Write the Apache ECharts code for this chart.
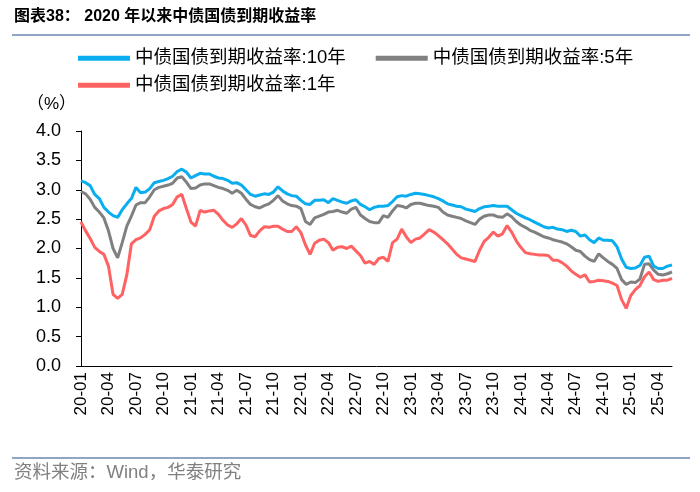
<!DOCTYPE html>
<html>
<head>
<meta charset="utf-8">
<script src="https://cdn.jsdelivr.net/npm/echarts@6/dist/echarts.min.js"></script>
<style>
html,body{margin:0;padding:0;background:#fff;}
#chart{width:700px;height:492px;}
</style>
</head>
<body>
<div id="chart"></div>
<script>
// Semi-monthly observations from 2020-01 to 2025-05 (1st and 16th of each month)
const startYear = 2020;
const nMonths = 65;
const dates = [];
for (let m = 0; m < nMonths; m++) {
  const y = startYear + Math.floor(m / 12);
  const mo = (m % 12) + 1;
  const mm = (mo < 10 ? '0' : '') + mo;
  dates.push(y + '-' + mm + '-01');
  dates.push(y + '-' + mm + '-16');
}

const seriesNames = ['中债国债到期收益率:10年', '中债国债到期收益率:5年', '中债国债到期收益率:1年'];

const yield10y = [
  3.15,3.12, 3.07,2.92, 2.85,2.70, 2.62,2.56, 2.53,2.66, 2.76,2.85,
  3.04,2.95, 2.96,3.02, 3.12,3.14, 3.16,3.19, 3.23,3.31, 3.35,3.30,
  3.20,3.24, 3.28,3.27, 3.27,3.23, 3.20,3.19, 3.16,3.11, 3.12,3.08,
  3.00,2.92, 2.89,2.91, 2.93,2.92, 2.96,3.05, 2.98,2.93, 2.90,2.89,
  2.82,2.76, 2.75,2.82, 2.82,2.83, 2.78,2.85, 2.82,2.79, 2.77,2.81,
  2.83,2.75, 2.71,2.66, 2.70,2.72, 2.72,2.73, 2.80,2.88, 2.90,2.89,
  2.92,2.94, 2.93,2.92, 2.90,2.88, 2.85,2.81, 2.76,2.74, 2.72,2.71,
  2.67,2.65, 2.63,2.68, 2.71,2.72, 2.73,2.72, 2.72,2.72, 2.66,2.60,
  2.56,2.52, 2.49,2.45, 2.41,2.37, 2.35,2.36, 2.33,2.32, 2.29,2.31,
  2.29,2.21, 2.23,2.15, 2.10,2.18, 2.14,2.14, 2.13,2.03, 1.82,1.68,
  1.66,1.67, 1.71,1.85, 1.87,1.70, 1.66,1.66, 1.70,1.72
];

const yield5y = [
  2.97,2.93, 2.84,2.70, 2.62,2.52, 2.30,2.00, 1.84,2.10, 2.38,2.55,
  2.74,2.78, 2.78,2.88, 3.00,3.04, 3.06,3.08, 3.11,3.20, 3.22,3.13,
  3.02,3.03, 3.08,3.10, 3.10,3.07, 3.04,3.02, 2.99,2.94, 2.99,2.94,
  2.84,2.75, 2.71,2.69, 2.73,2.76, 2.82,2.90, 2.81,2.76, 2.73,2.72,
  2.68,2.46, 2.41,2.52, 2.55,2.58, 2.62,2.63, 2.65,2.62, 2.60,2.67,
  2.70,2.57, 2.51,2.46, 2.44,2.44, 2.56,2.53, 2.64,2.73, 2.72,2.69,
  2.75,2.77, 2.77,2.75, 2.73,2.72, 2.70,2.62, 2.57,2.55, 2.53,2.51,
  2.47,2.44, 2.41,2.50, 2.55,2.57, 2.57,2.54, 2.53,2.59, 2.54,2.46,
  2.40,2.36, 2.31,2.28, 2.24,2.20, 2.18,2.15, 2.13,2.11, 2.08,2.03,
  1.97,1.95, 1.87,1.81, 1.78,1.91, 1.84,1.78, 1.73,1.66, 1.47,1.39,
  1.43,1.42, 1.48,1.73, 1.74,1.63, 1.56,1.55, 1.57,1.60
];

const yield1y = [
  2.45,2.30, 2.17,2.02, 1.95,1.90, 1.70,1.22, 1.15,1.22, 1.55,2.08,
  2.15,2.18, 2.24,2.32, 2.55,2.64, 2.68,2.70, 2.75,2.88, 2.92,2.68,
  2.45,2.38, 2.65,2.62, 2.64,2.65, 2.58,2.48, 2.40,2.36, 2.42,2.51,
  2.40,2.22, 2.20,2.30, 2.37,2.36, 2.38,2.38, 2.33,2.29, 2.29,2.37,
  2.27,2.06, 1.90,2.09, 2.14,2.16, 2.10,1.97, 2.02,2.03, 2.00,2.04,
  1.96,1.88, 1.75,1.78, 1.73,1.83, 1.85,1.78, 2.10,2.16, 2.33,2.20,
  2.10,2.16, 2.18,2.25, 2.32,2.28, 2.22,2.15, 2.08,1.99, 1.90,1.84,
  1.82,1.80, 1.78,1.97, 2.12,2.19, 2.28,2.21, 2.25,2.39, 2.28,2.13,
  2.02,1.93, 1.91,1.90, 1.89,1.89, 1.88,1.80, 1.80,1.76, 1.70,1.62,
  1.56,1.51, 1.55,1.43, 1.44,1.46, 1.45,1.44, 1.41,1.37, 1.13,0.98,
  1.20,1.30, 1.37,1.52, 1.60,1.47, 1.44,1.46, 1.46,1.49
];

const yTicks = ['0.0','0.5','1.0','1.5','2.0','2.5','3.0','3.5','4.0'];
const colors = ['#0AAEEF', '#808080', '#FF6262'];

const chart = echarts.init(document.getElementById('chart'), null, {renderer: 'canvas'});
const font = '"Liberation Sans", Arial, "Noto Sans CJK SC", sans-serif';
const cjk = '"Liberation Sans", "Noto Sans CJK SC", sans-serif';

chart.setOption({
  animation: false,
  backgroundColor: '#fff',
  graphic: [
    {type: 'text', left: 14, top: 9, style: {text: '图表38： 2020 年以来中债国债到期收益率', font: 'bold 16px ' + cjk, fill: '#000'}},
    {type: 'rect', shape: {x: 12, y: 34, width: 678, height: 2}, style: {fill: '#8EA6C4'}},
    {type: 'text', left: 27, top: 96, style: {text: '（%）', font: '17px ' + cjk, fill: '#000'}},
    {type: 'rect', shape: {x: 12, y: 457, width: 678, height: 2}, style: {fill: '#8EA6C4'}},
    {type: 'text', left: 14, top: 464, style: {text: '资料来源：Wind，华泰研究', font: '18.5px ' + cjk, fill: '#808080'}}
  ],
  legend: [
    {
      data: [seriesNames[0], seriesNames[1]],
      left: 78, top: 49, orient: 'horizontal', padding: 0,
      icon: 'rect', itemWidth: 52, itemHeight: 5, itemGap: 30,
      textStyle: {fontSize: 18.5, fontFamily: cjk, color: '#000'}
    },
    {
      data: [seriesNames[2]],
      left: 78, top: 76, orient: 'horizontal', padding: 0,
      icon: 'rect', itemWidth: 52, itemHeight: 5,
      textStyle: {fontSize: 18.5, fontFamily: cjk, color: '#000'}
    }
  ],
  grid: {left: 81, right: 28, top: 131, bottom: 126, containLabel: false},
  xAxis: {
    type: 'category',
    data: dates,
    boundaryGap: false,
    axisLine: {lineStyle: {color: '#000', width: 1}},
    axisTick: {show: false},
    axisLabel: {
      interval: 5,
      rotate: 90,
      fontSize: 17,
      fontFamily: font,
      color: '#000',
      margin: 6,
      formatter: function (v) { return v.slice(2, 7); }
    },
    splitLine: {show: false}
  },
  yAxis: {
    type: 'value',
    min: 0, max: 4, interval: 0.5,
    axisLine: {show: true, lineStyle: {color: '#000', width: 1}},
    axisTick: {show: true, inside: false, length: 5, lineStyle: {color: '#000'}},
    axisLabel: {
      fontSize: 18, fontFamily: font, color: '#000', margin: 20,
      formatter: function (v) { return yTicks[Math.round(v * 2)]; }
    },
    splitLine: {show: false}
  },
  series: [
    {name: seriesNames[0], type: 'line', data: yield10y, color: colors[0], showSymbol: false, lineStyle: {width: 3}, z: 3},
    {name: seriesNames[1], type: 'line', data: yield5y, color: colors[1], showSymbol: false, lineStyle: {width: 3}, z: 2},
    {name: seriesNames[2], type: 'line', data: yield1y, color: colors[2], showSymbol: false, lineStyle: {width: 3}, z: 1}
  ]
});
</script>
</body>
</html>
